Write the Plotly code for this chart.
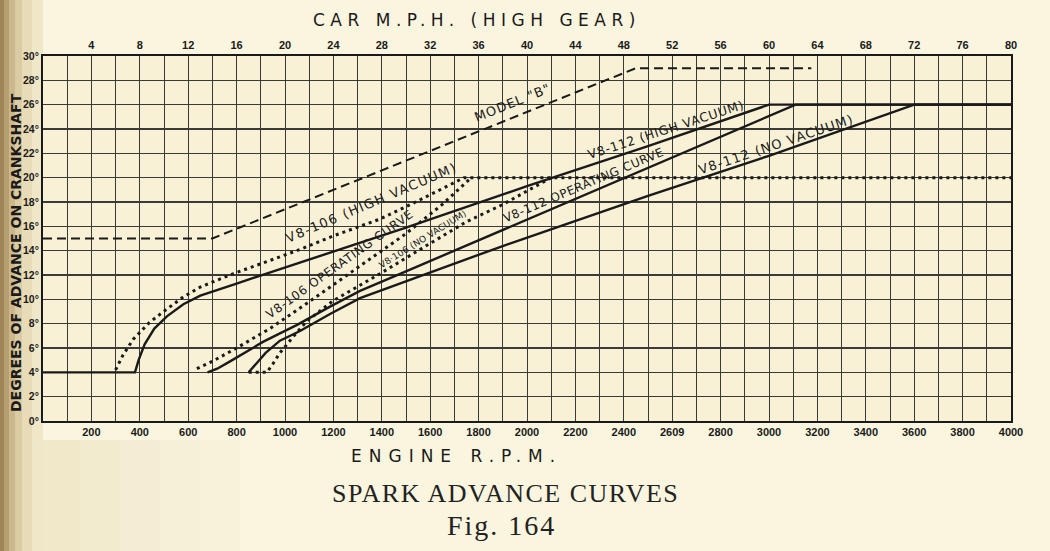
import plotly.graph_objects as go

# ---------------- data ----------------
rpm_tick_vals = [200, 400, 600, 800, 1000, 1200, 1400, 1600, 1800, 2000,
                 2200, 2400, 2600, 2800, 3000, 3200, 3400, 3600, 3800, 4000]
rpm_tick_text = ["200", "400", "600", "800", "1000", "1200", "1400", "1600", "1800", "2000",
                 "2200", "2400", "2609", "2800", "3000", "3200", "3400", "3600", "3800", "4000"]
rpm_minor_vals = [100, 300, 500, 700, 900, 1100, 1300, 1500, 1700, 1900,
                  2100, 2300, 2500, 2700, 2900, 3100, 3300, 3500, 3700, 3900]
mph_tick_vals = [4, 8, 12, 16, 20, 24, 28, 32, 36, 40, 44, 48, 52, 56, 60, 64, 68, 72, 76, 80]
mph_tick_text = ["4", "8", "12", "16", "20", "24", "28", "32", "36", "40",
                 "44", "48", "52", "56", "60", "64", "68", "72", "76", "80"]
deg_tick_vals = [0, 2, 4, 6, 8, 10, 12, 14, 16, 18, 20, 22, 24, 26, 28, 30]
deg_tick_text = ["0°", "2°", "4°", "6°", "8°", "10°", "12°", "14°", "16°", "18°",
                 "20°", "22°", "24°", "26°", "28°", "30°"]

# Model "B" (dashed)
model_b_rpm = [0, 700, 2450, 3175]
model_b_deg = [15, 15, 29, 29]

# V8-106 curves (dotted)
v8_106_high_rpm = [300, 330, 372, 440, 512, 580, 649, 785, 925, 1062, 1198, 1393, 1550, 1669, 1740, 4000]
v8_106_high_deg = [4.2, 5.4, 6.7, 8.1, 9.2, 10.2, 11.0, 12.1, 13.1, 14.1, 15.2, 16.6, 18.1, 19.3, 20.0, 20.0]

v8_106_oper_rpm = [636, 700, 800, 938, 1100, 1300, 1500, 1650, 1770]
v8_106_oper_deg = [4.3, 4.9, 6.0, 7.6, 9.8, 12.6, 15.4, 17.8, 20.0]

v8_106_novac_rpm = [850, 925, 950, 979, 1033, 1090, 1200, 1400, 1600, 1752, 1900, 2100]
v8_106_novac_deg = [4.0, 4.0, 4.7, 5.6, 6.9, 8.2, 9.9, 12.2, 14.6, 16.4, 17.8, 20.0]

# V8-112 curves (solid)
v8_112_high_rpm = [0, 380, 395, 420, 460, 512, 580, 650, 800, 1000, 1500, 2000, 2500, 3000, 4000]
v8_112_high_deg = [4.0, 4.0, 5.0, 6.3, 7.6, 8.6, 9.6, 10.3, 11.3, 12.6, 15.9, 19.3, 22.6, 26.0, 26.0]

v8_112_oper_rpm = [680, 720, 773, 909, 979, 1050, 1186, 1310, 1500, 1888, 2500, 3110, 4000]
v8_112_oper_deg = [4.0, 4.3, 4.9, 6.5, 7.2, 7.9, 9.4, 10.7, 12.3, 15.6, 20.8, 26.0, 26.0]

v8_112_novac_rpm = [850, 880, 920, 979, 1062, 1186, 1310, 1888, 2500, 3000, 3600, 4000]
v8_112_novac_deg = [4.0, 4.7, 5.6, 6.6, 7.4, 8.8, 10.1, 14.3, 18.5, 21.8, 26.0, 26.0]

# curve labels: text and anchor (rpm, degrees)
label_text = ['MODEL "B"', "V8-106 (HIGH VACUUM)", "V8-106 OPERATING CURVE", "V8·106 (NO VACUUM)",
              "V8-112 (HIGH VACUUM)", "V8-112 OPERATING CURVE", "V8-112 (NO VACUUM)"]
label_rpm = [1942, 1359, 1227, 1570, 2574, 2235, 3029]
label_deg = [26.2, 18.0, 12.9, 15.0, 24.0, 19.4, 22.7]

# ---------------- styling ----------------
INK = "#1a1a1a"
GRID = "#3a3a36"
PAPER = "#faf5df"
PLOT = "#f8f1d6"
label_angle = [-22, -23, -35.5, -32, -18, -23, -18.5]
label_size = [13, 13, 12, 9, 12.5, 12, 13]
label_spacing = [1.0, 1.5, 0.8, 0.2, 0.75, 0.6, 1.2]

fig = go.Figure()

solid = dict(color=INK, width=2.4)
dotted = dict(color=INK, width=3, dash="3px,4px")
dashed = dict(color=INK, width=2, dash="9px,5px")

fig.add_trace(go.Scatter(x=model_b_rpm, y=model_b_deg, mode="lines", line=dashed, hoverinfo="skip"))
fig.add_trace(go.Scatter(x=v8_106_high_rpm, y=v8_106_high_deg, mode="lines", line=dotted, hoverinfo="skip"))
fig.add_trace(go.Scatter(x=v8_106_oper_rpm, y=v8_106_oper_deg, mode="lines", line=dotted, hoverinfo="skip"))
fig.add_trace(go.Scatter(x=v8_106_novac_rpm, y=v8_106_novac_deg, mode="lines", line=dotted, hoverinfo="skip"))
fig.add_trace(go.Scatter(x=v8_112_high_rpm, y=v8_112_high_deg, mode="lines", line=solid, hoverinfo="skip"))
fig.add_trace(go.Scatter(x=v8_112_oper_rpm, y=v8_112_oper_deg, mode="lines", line=solid, hoverinfo="skip"))
fig.add_trace(go.Scatter(x=v8_112_novac_rpm, y=v8_112_novac_deg, mode="lines", line=solid, hoverinfo="skip"))
# invisible trace so the top (M.P.H.) axis is drawn
fig.add_trace(go.Scatter(x=[mph_tick_vals[0], mph_tick_vals[-1]], y=[0, 0], xaxis="x2",
                         mode="markers", marker=dict(opacity=0), hoverinfo="skip"))

tickfont = dict(family="Liberation Sans", size=11, color=INK, weight="bold")

fig.update_layout(
    width=1050, height=551,
    margin=dict(l=43, r=39, t=56, b=130),
    paper_bgcolor=PAPER, plot_bgcolor=PLOT,
    showlegend=False,
    xaxis=dict(range=[0, 4000], tickmode="array", tickvals=rpm_tick_vals, ticktext=rpm_tick_text,
               showgrid=True, gridcolor=GRID, gridwidth=1,
               minor=dict(tickvals=rpm_minor_vals, showgrid=True, gridcolor=GRID, gridwidth=1),
               showline=True, mirror=True, linecolor=INK, linewidth=2,
               ticks="", tickfont=tickfont, zeroline=False, automargin=False, fixedrange=True),
    xaxis2=dict(range=[0, 80], overlaying="x", side="top", tickmode="array",
                tickvals=mph_tick_vals, ticktext=mph_tick_text, showgrid=False,
                showline=False, ticks="", tickfont=tickfont, ticklabelstandoff=4,
                zeroline=False, automargin=False, fixedrange=True),
    yaxis=dict(range=[0, 30], tickmode="array", tickvals=deg_tick_vals, ticktext=deg_tick_text,
               showgrid=True, gridcolor=GRID, gridwidth=1.5,
               showline=True, mirror=True, linecolor=INK, linewidth=2,
               ticks="", tickfont=dict(family="Liberation Sans", size=10.5, color=INK, weight="bold"),
               ticklabelstandoff=0, zeroline=False, automargin=False, fixedrange=True),
)

# page pixel -> paper coordinates
def px_x(p):
    return (p - 43) / 968.0

def px_y(p):
    return (421 - p) / 365.0

# page shading at the left edge (binding shadow)
strips = [(0, 4, "#a08657"), (4, 9, "#b59e70"), (9, 15, "#cbb88c"), (15, 22, "#dccca3"),
          (22, 32, "#e8dcb8"), (32, 43, "#f0e7c8")]
for x0, x1, c in strips:
    fig.add_shape(type="rect", xref="paper", yref="paper", x0=px_x(x0), x1=px_x(x1),
                  y0=px_y(551), y1=px_y(0), fillcolor=c, line_width=0, layer="below")
bottom_shade = [(43, 80, "#f1e8c9"), (80, 120, "#f3ebce"), (120, 160, "#f5edd3"),
                (160, 200, "#f7f0d8"), (200, 240, "#f8f2db")]
for x0, x1, c in bottom_shade:
    fig.add_shape(type="rect", xref="paper", yref="paper", x0=px_x(x0), x1=px_x(x1),
                  y0=px_y(551), y1=px_y(440), fillcolor=c, line_width=0, layer="below")

def spaced(t, s):
    return '<span style="letter-spacing:%spx">%s</span>' % (s, t)

for t, xr, yd, a, sz, sp in zip(label_text, label_rpm, label_deg, label_angle, label_size, label_spacing):
    fig.add_annotation(x=xr, y=yd, xref="x", yref="y", text=spaced(t, sp), showarrow=False,
                       textangle=a, font=dict(family="DejaVu Sans", size=sz, color=INK),
                       xanchor="center", yanchor="middle")

# axis titles and caption
fig.add_annotation(x=px_x(477), y=px_y(20), xref="paper", yref="paper",
                   text=spaced("CAR M.P.H. (HIGH GEAR)", 5.5), showarrow=False,
                   font=dict(family="DejaVu Sans", size=17, color=INK), xanchor="center", yanchor="middle")
fig.add_annotation(x=px_x(456), y=px_y(456), xref="paper", yref="paper",
                   text=spaced("ENGINE R.P.M.", 7), showarrow=False,
                   font=dict(family="DejaVu Sans", size=17, color=INK), xanchor="center", yanchor="middle")
fig.add_annotation(x=px_x(16), y=px_y(253), xref="paper", yref="paper",
                   text="DEGREES OF ADVANCE ON CRANKSHAFT", showarrow=False, textangle=-90,
                   font=dict(family="DejaVu Sans", size=14, color=INK, weight="bold"),
                   xanchor="center", yanchor="middle")
fig.add_annotation(x=px_x(505), y=px_y(493), xref="paper", yref="paper",
                   text=spaced("SPARK ADVANCE CURVES", 1.5), showarrow=False,
                   font=dict(family="Liberation Serif", size=26, color="#222"), xanchor="center", yanchor="middle")
fig.add_annotation(x=px_x(501), y=px_y(525), xref="paper", yref="paper",
                   text=spaced("Fig. 164", 2), showarrow=False,
                   font=dict(family="Liberation Serif", size=28, color="#222"), xanchor="center", yanchor="middle")

fig.write_html("out.html", config={"displayModeBar": False, "staticPlot": True},
               post_script="document.body.style.margin='0';document.body.style.background='%s';" % PAPER)
